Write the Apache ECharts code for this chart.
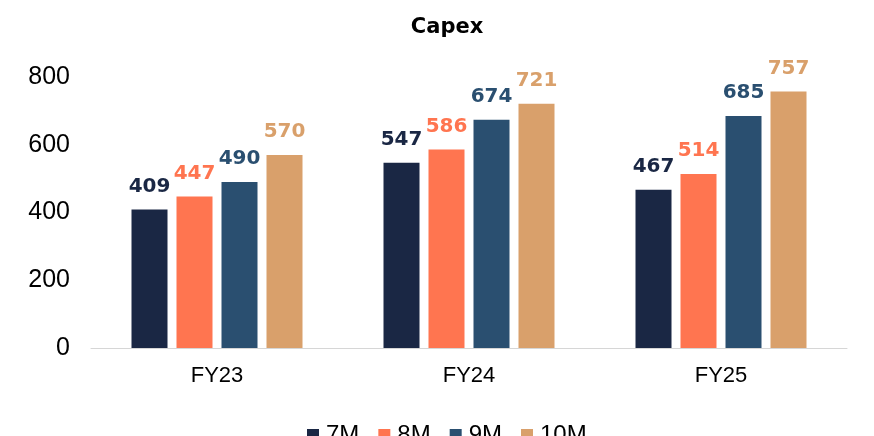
<!DOCTYPE html>
<html>
<head>
<meta charset="utf-8">
<script src="https://cdn.jsdelivr.net/npm/echarts@6/dist/echarts.min.js"></script>
<style>
  html, body { margin: 0; padding: 0; background: #fff; }
  #chart { width: 874px; height: 436px; }
</style>
</head>
<body>
<div id="chart"></div>
<script>
// Capex by fiscal year, cumulative months
const categories = ['FY23', 'FY24', 'FY25'];
const seriesNames = ['7M', '8M', '9M', '10M'];
const capex7M = [409, 547, 467];
const capex8M = [447, 586, 514];
const capex9M = [490, 674, 685];
const capex10M = [570, 721, 757];
const yTicks = [0, 200, 400, 600, 800];

const colors = ['#1a2744', '#ff7550', '#2a4f70', '#d9a06b'];
const values = [capex7M, capex8M, capex9M, capex10M];
const font = '"Liberation Sans", Arial, sans-serif';
const boldFont = '"DejaVu Sans", sans-serif';

const chart = echarts.init(document.getElementById('chart'));
chart.setOption({
  animation: false,
  color: colors,
  title: {
    text: 'Capex',
    left: 442,
    textAlign: 'center',
    top: 12,
    textStyle: { fontFamily: boldFont, fontWeight: 'bold', fontSize: 21, color: '#000' }
  },
  legend: {
    data: seriesNames,
    left: 302,
    top: 418,
    itemWidth: 12,
    itemHeight: 12,
    itemGap: 19,
    icon: 'rect',
    textStyle: { fontFamily: font, fontSize: 24, color: '#000', padding: [0, 0, 0, 2] }
  },
  grid: { left: 91, right: 27, top: 77, bottom: 88, containLabel: false },
  xAxis: {
    type: 'category',
    data: categories,
    axisLine: { lineStyle: { color: '#d6d6d6', width: 1 } },
    axisTick: { show: false },
    axisLabel: { fontFamily: font, fontSize: 22, color: '#000', margin: 17 }
  },
  yAxis: {
    type: 'value',
    min: yTicks[0],
    max: yTicks[yTicks.length - 1],
    interval: 200,
    splitLine: { show: false },
    axisLine: { show: false },
    axisTick: { show: false },
    axisLabel: { fontFamily: font, fontSize: 25, color: '#000', margin: 21 }
  },
  series: seriesNames.map((name, i) => ({
    name: name,
    type: 'bar',
    data: values[i],
    barWidth: 36,
    barGap: '25%',
    itemStyle: { color: colors[i] },
    label: {
      show: true,
      position: 'top',
      distance: 13,
      fontFamily: boldFont,
      fontWeight: 'bold',
      fontSize: 20,
      color: colors[i]
    }
  }))
});
</script>
</body>
</html>
